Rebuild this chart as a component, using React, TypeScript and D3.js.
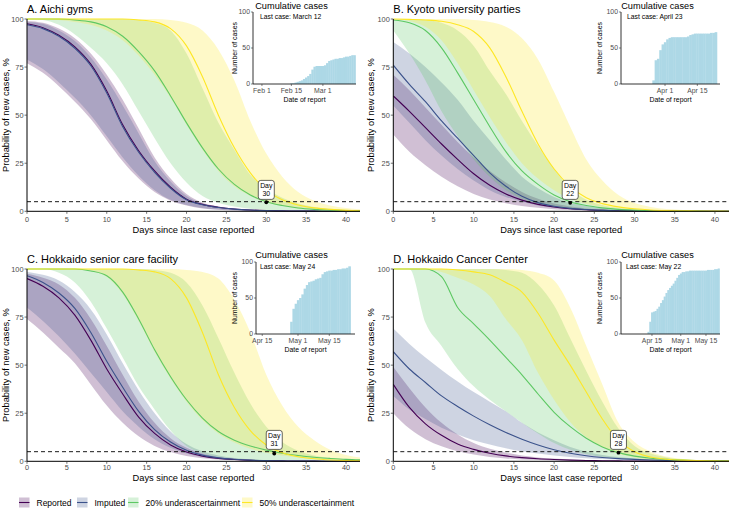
import React from "react";
import * as d3 from "d3";

const FONT = "'Liberation Sans', Arial, Helvetica, sans-serif";

// ---------------- data ----------------
const DAYS = [0, 2, 4, 6, 8, 10, 12, 14, 16, 18, 20, 22, 24, 26, 28, 30, 32, 34, 36, 38, 40, 42];
const X_TICKS = [0, 5, 10, 15, 20, 25, 30, 35, 40];
const Y_TICKS = [0, 25, 50, 75, 100];
const SERIES = ["Reported", "Imputed", "20% underascertainment", "50% underascertainment"];
const COLORS = ["#440154", "#3B528B", "#5DC863", "#FDE725"];
const THRESHOLD = 5;

// Panel A
const A_rep = [97.5, 95.5, 91.5, 85.5, 76.5, 62.5, 45, 31.5, 21, 12.5, 6.3, 3.6, 2.1, 1.2, 0.7, 0.4, 0.2, 0.1, 0.1, 0, 0, 0];
const A_rep_lo = [77, 72, 65, 57, 48, 37, 26, 17, 10, 5.5, 3, 1.5, 0.8, 0.4, 0.2, 0.1, 0.1, 0, 0, 0, 0, 0];
const A_rep_hi = [99, 98, 95, 90, 82, 71, 58, 43, 28, 17, 9, 4.5, 2.5, 1.3, 0.7, 0.4, 0.2, 0.1, 0.1, 0, 0, 0];
const A_imp = [97, 95, 91, 84.8, 75.7, 61.5, 44, 30.7, 20.3, 12, 6, 3.4, 2, 1.15, 0.65, 0.35, 0.2, 0.1, 0.1, 0, 0, 0];
const A_imp_lo = [79, 74, 67, 59, 50, 39, 28, 18.5, 11, 6, 3.3, 1.7, 0.9, 0.5, 0.25, 0.15, 0.1, 0, 0, 0, 0, 0];
const A_imp_hi = [98.5, 97.5, 94, 88.5, 80, 68.5, 55, 40.5, 26, 15.5, 8, 4, 2.2, 1.1, 0.6, 0.35, 0.2, 0.1, 0.1, 0, 0, 0];
const A_g20 = [100, 100, 100, 99.5, 98.5, 96, 91, 83, 73, 60, 46, 33, 22, 14, 8.5, 5, 3, 1.7, 1, 0.6, 0.3, 0.2];
const A_g20_lo = [100, 99.5, 97, 92, 85, 77, 66, 52, 38, 25, 15, 8, 4.5, 2.5, 1.3, 0.7, 0.4, 0.2, 0.1, 0.1, 0, 0];
const A_g20_hi = [100, 100, 100, 100, 100, 100, 100, 99.5, 98, 94, 82, 64, 46, 32, 19, 12, 7, 4, 2.3, 1.3, 0.8, 0.5];
const A_y50 = [100, 100, 100, 100, 100, 100, 100, 99.5, 98.5, 95, 86, 70, 50, 33, 20, 11, 6, 3.3, 1.8, 1, 0.5, 0.3];
const A_y50_lo = [100, 100, 99.5, 98.5, 97, 94, 89, 81, 71, 59, 45, 32, 21, 13, 8, 4.7, 2.7, 1.5, 0.9, 0.5, 0.3, 0.2];
const A_y50_hi = [100, 100, 100, 100, 100, 100, 100, 100, 100, 99.5, 98, 94, 84, 68, 47, 30, 18, 10, 5.5, 3, 1.7, 1];

// Panel B
const B_rep = [60, 52, 43.5, 35, 27, 19.5, 13.5, 9, 5.8, 3.6, 2.2, 1.3, 0.8, 0.5, 0.3, 0.2, 0.1, 0.1, 0, 0, 0, 0];
const B_rep_lo = [40, 31, 24, 18, 13, 9, 6.2, 4.2, 2.8, 1.8, 1.1, 0.7, 0.45, 0.3, 0.2, 0.1, 0.1, 0, 0, 0, 0, 0];
const B_rep_hi = [71, 63, 54, 45, 36, 28, 21, 15, 10, 6.5, 4, 2.5, 1.5, 0.9, 0.55, 0.35, 0.2, 0.1, 0.1, 0, 0, 0];
const B_imp = [76, 66, 57, 47, 38, 29, 20, 13, 7.8, 4.5, 2.6, 1.5, 0.9, 0.5, 0.3, 0.2, 0.1, 0.1, 0, 0, 0, 0];
const B_imp_lo = [55, 46, 37, 29, 22, 16, 11, 7.5, 5, 3, 1.8, 1.1, 0.7, 0.4, 0.25, 0.15, 0.1, 0, 0, 0, 0, 0];
const B_imp_hi = [88, 82, 75, 67, 58, 47, 37, 27, 18, 12, 7.5, 4.5, 2.8, 1.7, 1, 0.6, 0.35, 0.2, 0.1, 0.1, 0, 0];
const B_g20 = [99.5, 98, 94, 85, 72, 58, 44, 31, 21, 14, 8.5, 5, 3, 1.8, 1, 0.6, 0.35, 0.2, 0.1, 0.1, 0, 0];
const B_g20_lo = [94, 82, 68, 52, 39, 27, 18, 11, 6.5, 3.8, 2.2, 1.3, 0.8, 0.5, 0.3, 0.2, 0.1, 0.1, 0, 0, 0, 0];
const B_g20_hi = [100, 100, 99.5, 98, 94, 86, 73, 61, 47, 34, 22, 12, 6, 3.3, 1.8, 1, 0.6, 0.35, 0.2, 0.1, 0.1, 0.1];
const B_y50 = [100, 99.8, 99.5, 98.8, 97, 93.5, 85, 70, 52, 35, 22, 13, 7, 4, 2.3, 1.3, 0.7, 0.4, 0.25, 0.15, 0.1, 0.05];
const B_y50_lo = [100, 99, 96, 89, 77, 63, 49, 36, 25, 17, 11, 6.5, 3.8, 2.2, 1.3, 0.7, 0.4, 0.25, 0.15, 0.1, 0.1, 0.05];
const B_y50_hi = [100, 100, 100, 100, 100, 99.5, 98.5, 96, 90, 79, 62, 44, 27, 16, 8.5, 4.3, 2.3, 1.2, 0.7, 0.4, 0.2, 0.1];

// Panel C
const C_rep = [95, 91, 85, 76, 63, 48, 35, 23, 14.5, 8.5, 4.8, 2.7, 1.5, 0.9, 0.5, 0.3, 0.2, 0.1, 0.1, 0, 0, 0];
const C_rep_lo = [74, 67, 59, 51, 40, 29, 20, 13, 8, 4.8, 2.8, 1.6, 0.9, 0.5, 0.3, 0.2, 0.1, 0.1, 0, 0, 0, 0];
const C_rep_hi = [97.5, 95.5, 92, 85, 74, 60, 45, 31, 20, 12, 7, 4, 2.3, 1.3, 0.8, 0.5, 0.3, 0.2, 0.1, 0.1, 0, 0];
const C_imp = [96.5, 93, 87.5, 79.5, 67, 52, 38.5, 26, 16.5, 10, 5.7, 3.2, 1.8, 1.05, 0.6, 0.35, 0.2, 0.1, 0.1, 0, 0, 0];
const C_imp_lo = [80, 73, 65, 56, 46, 36, 26, 18, 11.5, 7, 4, 2.3, 1.3, 0.7, 0.4, 0.25, 0.15, 0.1, 0.1, 0, 0, 0];
const C_imp_hi = [98.5, 97, 94, 88, 79, 66, 51, 37, 25, 15.5, 9, 5.2, 3, 1.7, 1, 0.6, 0.35, 0.2, 0.1, 0.1, 0, 0];
const C_g20 = [100, 100, 100, 100, 99, 96.5, 88, 74, 58, 44, 32, 22.5, 15.5, 11, 8, 5.8, 4.2, 3, 2.1, 1.5, 1, 0.7];
const C_g20_lo = [100, 100, 98, 93, 83, 69, 54, 39, 27, 16, 8, 4.2, 2.2, 1.3, 0.8, 0.5, 0.3, 0.2, 0.1, 0.1, 0, 0];
const C_g20_hi = [100, 100, 100, 100, 100, 100, 100, 100, 99.5, 98, 93, 81, 64, 46, 30, 18, 10, 5.5, 3, 1.7, 1, 0.6];
const C_y50 = [100, 100, 100, 100, 100, 100, 100, 99.5, 98.5, 95, 85, 67, 45, 28, 16, 8.5, 4.5, 2.4, 1.3, 0.7, 0.4, 0.2];
const C_y50_lo = [100, 100, 100, 100, 99, 96, 87, 73, 57, 43, 31, 21.5, 14.5, 9.8, 6.5, 4.5, 3, 2, 1.3, 0.9, 0.6, 0.4];
const C_y50_hi = [100, 100, 100, 100, 100, 100, 100, 100, 100, 100, 99.5, 98.5, 95, 84, 67, 45, 29, 18, 11, 6, 3.3, 1.8];

// Panel D
const D_rep = [40, 28, 19.5, 13.5, 9, 6.2, 4.2, 2.8, 1.9, 1.3, 0.9, 0.6, 0.4, 0.3, 0.2, 0.1, 0.1, 0.1, 0, 0, 0, 0];
const D_rep_lo = [25, 17, 11.5, 7.8, 5.2, 3.5, 2.3, 1.5, 1, 0.7, 0.45, 0.3, 0.2, 0.1, 0.1, 0.1, 0, 0, 0, 0, 0, 0];
const D_rep_hi = [49, 38, 28, 20, 14, 9.5, 6.5, 4.5, 3, 2, 1.4, 1, 0.7, 0.5, 0.35, 0.25, 0.15, 0.1, 0.1, 0, 0, 0];
const D_imp = [57, 48, 41, 34, 28.5, 23.5, 19, 15, 11.5, 8.5, 6, 4.2, 2.9, 2, 1.4, 1, 0.7, 0.5, 0.35, 0.25, 0.2, 0.15];
const D_imp_lo = [34, 27, 22, 17.5, 14, 11, 8.7, 6.8, 5.2, 4, 3, 2.2, 1.6, 1.2, 0.9, 0.65, 0.5, 0.35, 0.25, 0.2, 0.15, 0.1];
const D_imp_hi = [69, 61, 54, 47.5, 41.5, 36, 31, 26, 20, 15, 11, 7.5, 5, 3.3, 2.2, 1.5, 1, 0.7, 0.5, 0.35, 0.25, 0.2];
const D_g20 = [100, 100, 100, 96, 80, 71.5, 63, 54, 45, 35, 25.5, 18, 12, 7.5, 4.5, 2.7, 1.6, 1, 0.6, 0.4, 0.25, 0.15];
const D_g20_lo = [100, 100, 72, 60, 48, 39, 32, 26, 20, 14.5, 9.5, 6, 3.7, 2.2, 1.3, 0.8, 0.5, 0.3, 0.2, 0.1, 0.1, 0];
const D_g20_hi = [100, 100, 100, 100, 100, 100, 100, 99.5, 98, 92, 81, 64, 47, 31, 17, 8, 4, 2, 1, 0.5, 0.25, 0.1];
const D_y50 = [100, 100, 100, 100, 99.5, 98.5, 97, 93, 88, 77, 63, 50, 36, 22, 11, 5, 2.2, 1.1, 0.6, 0.35, 0.2, 0.1];
const D_y50_lo = [100, 100, 100, 98.5, 95.5, 92, 86, 74, 63, 46, 32, 20.5, 12.5, 7.3, 3.9, 2, 1, 0.5, 0.3, 0.2, 0.1, 0.05];
const D_y50_hi = [100, 100, 100, 100, 100, 100, 100, 100, 99.5, 98, 94, 80, 60, 40, 20, 10, 5, 2.5, 1.2, 0.6, 0.3, 0.15];

const PANEL_TITLES = ["A. Aichi gyms", "B. Kyoto university parties", "C. Hokkaido senior care facility", "D. Hokkaido Cancer Center"];
const DAY_MARK = [30, 22, 31, 28];
const DOT_VALUE = [4.7, 4.4, 4.0, 4.5];
const LAST_CASE = ["Last case: March 12", "Last case: April 23", "Last case: May 24", "Last case: May 22"];

// Cumulative cases by report date (consecutive days from start date)
const CUM_START = [new Date(2020, 1, 15), new Date(2020, 2, 27), new Date(2020, 3, 28), new Date(2020, 3, 13)];
const CUM_A = [1, 1, 2, 3, 4, 5, 7, 9, 11, 14, 20, 24, 25, 25, 25, 25, 26, 29, 32, 33, 34, 35, 35, 36, 36, 37, 38, 38, 39, 40, 40];
const CUM_B = [5, 33, 35, 47, 55, 58, 62, 64, 65, 65, 65, 65, 65, 65, 65, 66, 68, 69, 70, 70, 70, 70, 70, 70, 70, 71, 71, 72];
const CUM_C = [17, 35, 42, 47, 50, 55, 63, 68, 72, 73, 74, 76, 77, 78, 83, 86, 87, 88, 88, 89, 89, 90, 90, 91, 91, 92, 94];
const CUM_D = [3, 17, 30, 31, 32, 35, 38, 43, 47, 52, 57, 61, 64, 67, 70, 74, 78, 82, 84, 86, 86, 87, 87, 88, 88, 88, 88, 88, 88, 88, 88, 88, 88, 89, 89, 89, 89, 90, 90, 91];
const INSET_DOMAIN = [
  [new Date(2020, 0, 27, 18), new Date(2020, 2, 16, 18)],
  [new Date(2020, 2, 12, 22), new Date(2020, 3, 24, 20)],
  [new Date(2020, 3, 12, 5), new Date(2020, 4, 26, 12)],
  [new Date(2020, 2, 28, 19), new Date(2020, 4, 22, 19)],
];
const INSET_TICKS = [
  [new Date(2020, 1, 1), new Date(2020, 1, 15), new Date(2020, 2, 1)],
  [new Date(2020, 3, 1), new Date(2020, 3, 15)],
  [new Date(2020, 3, 15), new Date(2020, 4, 1), new Date(2020, 4, 15)],
  [new Date(2020, 3, 15), new Date(2020, 4, 1), new Date(2020, 4, 15)],
];
const INSET_Y_TICKS = [0, 50, 100];

const PANEL_DATA = [
  [
    { mid: A_rep, lo: A_rep_lo, hi: A_rep_hi },
    { mid: A_imp, lo: A_imp_lo, hi: A_imp_hi },
    { mid: A_g20, lo: A_g20_lo, hi: A_g20_hi },
    { mid: A_y50, lo: A_y50_lo, hi: A_y50_hi },
  ],
  [
    { mid: B_rep, lo: B_rep_lo, hi: B_rep_hi },
    { mid: B_imp, lo: B_imp_lo, hi: B_imp_hi },
    { mid: B_g20, lo: B_g20_lo, hi: B_g20_hi },
    { mid: B_y50, lo: B_y50_lo, hi: B_y50_hi },
  ],
  [
    { mid: C_rep, lo: C_rep_lo, hi: C_rep_hi },
    { mid: C_imp, lo: C_imp_lo, hi: C_imp_hi },
    { mid: C_g20, lo: C_g20_lo, hi: C_g20_hi },
    { mid: C_y50, lo: C_y50_lo, hi: C_y50_hi },
  ],
  [
    { mid: D_rep, lo: D_rep_lo, hi: D_rep_hi },
    { mid: D_imp, lo: D_imp_lo, hi: D_imp_hi },
    { mid: D_g20, lo: D_g20_lo, hi: D_g20_hi },
    { mid: D_y50, lo: D_y50_lo, hi: D_y50_hi },
  ],
];
const CUM = [CUM_A, CUM_B, CUM_C, CUM_D];

// ---------------- layout ----------------
const X_MAX = 41.75;
const LAYOUT = [
  { left: 27, right: 360, top: 19, bottom: 211.3, titleY: 13, tickY: 221.8, xTitleY: 232.5, yTitleX: 8.5,
    inset: { l: 253, r: 356, t: 12, b: 84, titleX: 291.5, titleY: 8.5, ylabX: 235, lastX: 260 } },
  { left: 393.3, right: 729, top: 19, bottom: 211.3, titleY: 13, tickY: 221.8, xTitleY: 232.5, yTitleX: 373.5,
    inset: { l: 621, r: 720, t: 12, b: 84, titleX: 657.5, titleY: 8.5, ylabX: 600, lastX: 627 } },
  { left: 27, right: 360, top: 269, bottom: 461.3, titleY: 263, tickY: 469.5, xTitleY: 480.5, yTitleX: 8.5,
    inset: { l: 256, r: 355, t: 262, b: 334, titleX: 291.5, titleY: 257.5, ylabX: 235, lastX: 260 } },
  { left: 393.3, right: 729, top: 269, bottom: 461.3, titleY: 263, tickY: 469.5, xTitleY: 480.5, yTitleX: 373.5,
    inset: { l: 621, r: 720, t: 262, b: 334, titleX: 657.5, titleY: 257.5, ylabX: 600, lastX: 626 } },
];
const ALPHA = 0.25;
const TICK_COL = "#4D4D4D";
const fmtDate = d3.timeFormat("%b %-d");

function Inset({ i }: { i: number }) {
  const I = LAYOUT[i].inset;
  const xs = d3.scaleTime().domain(INSET_DOMAIN[i]).range([I.l, I.r]);
  const ys = d3.scaleLinear().domain([0, 100]).range([I.b, I.t]);
  const start = CUM_START[i];
  const half = 12 * 3600 * 1000;
  return (
    <g>
      {CUM[i].map((v, k) => {
        const c = d3.timeDay.offset(start, k);
        const x0 = xs(new Date(+c - half));
        const x1 = xs(new Date(+c + half));
        return <rect key={k} x={x0} y={ys(v)} width={x1 - x0 + 0.35} height={ys(0) - ys(v)} fill="#ADD8E6" />;
      })}
      <line x1={I.l} x2={I.l} y1={ys(0)} y2={ys(100)} stroke="#000" strokeWidth={0.8} />
      <line x1={I.l} x2={I.r} y1={ys(0)} y2={ys(0)} stroke="#000" strokeWidth={0.8} />
      {INSET_Y_TICKS.map((t) => (
        <g key={t}>
          <line x1={I.l - 2} x2={I.l} y1={ys(t)} y2={ys(t)} stroke="#333" strokeWidth={0.6} />
          <text x={I.l - 3} y={ys(t) + 2.4} fontSize={6.9} textAnchor="end" fill={TICK_COL}>{t}</text>
        </g>
      ))}
      {INSET_TICKS[i].map((t, k) => (
        <g key={k}>
          <line x1={xs(t)} x2={xs(t)} y1={ys(0)} y2={ys(0) + 2} stroke="#333" strokeWidth={0.6} />
          <text x={xs(t)} y={ys(0) + 8.6} fontSize={6.9} textAnchor="middle" fill={TICK_COL}>{fmtDate(t)}</text>
        </g>
      ))}
      <text x={I.titleX} y={I.titleY} fontSize={9.2} textAnchor="middle" fill="#000">Cumulative cases</text>
      <text x={I.lastX} y={I.t + 6.5} fontSize={6.8} fill="#000">{LAST_CASE[i]}</text>
      <text x={(I.l + I.r) / 2} y={I.b + 17.5} fontSize={6.9} textAnchor="middle" fill="#000">Date of report</text>
      <text transform={`translate(${I.ylabX + 2.4},${(I.t + I.b) / 2}) rotate(-90)`} fontSize={6.9} textAnchor="middle" fill="#000">Number of cases</text>
    </g>
  );
}

function Panel({ i }: { i: number }) {
  const L = LAYOUT[i];
  const x = d3.scaleLinear().domain([0, X_MAX]).range([L.left, L.right]);
  const y = d3.scaleLinear().domain([0, 100]).range([L.bottom, L.top]);
  const idx = DAYS.map((_, k) => k);
  const series = PANEL_DATA[i];
  const clipId = `clip-${i}`;
  const dm = DAY_MARK[i];
  const boxW = 16, boxH = 19;
  const boxBottom = y(6.2);
  return (
    <g>
      <defs>
        <clipPath id={clipId}>
          <rect x={L.left} y={L.top - 6} width={L.right - L.left} height={L.bottom - L.top + 7} />
        </clipPath>
      </defs>
      <g clipPath={`url(#${clipId})`}>
        {series.map((s, k) => {
          const area = d3.area<number>()
            .x((j) => x(DAYS[j]))
            .y0((j) => y(s.lo[j]))
            .y1((j) => y(s.hi[j]))
            .curve(d3.curveMonotoneX);
          return <path key={"a" + k} d={area(idx) || ""} fill={COLORS[k]} fillOpacity={ALPHA} stroke="none" />;
        })}
        {series.map((s, k) => {
          const line = d3.line<number>()
            .x((j) => x(DAYS[j]))
            .y((j) => y(s.mid[j]))
            .curve(d3.curveMonotoneX);
          return <path key={"l" + k} d={line(idx) || ""} fill="none" stroke={COLORS[k]} strokeWidth={1.1} />;
        })}
        <line x1={L.left} x2={L.right} y1={y(THRESHOLD)} y2={y(THRESHOLD)} stroke="#000" strokeWidth={0.9} strokeDasharray="4,3" />
      </g>
      {/* axes */}
      <line x1={L.left} x2={L.left} y1={y(0)} y2={y(100)} stroke="#000" strokeWidth={1} />
      <line x1={L.left} x2={L.right} y1={y(0)} y2={y(0)} stroke="#000" strokeWidth={1} />
      {Y_TICKS.map((t) => (
        <g key={t}>
          <line x1={L.left - 2.5} x2={L.left} y1={y(t)} y2={y(t)} stroke="#333" strokeWidth={0.7} />
          <text x={L.left - 3.5} y={y(t) + 2.6} fontSize={7.4} textAnchor="end" fill={TICK_COL}>{t}</text>
        </g>
      ))}
      {X_TICKS.map((t) => (
        <g key={t}>
          <line x1={x(t)} x2={x(t)} y1={y(0)} y2={y(0) + 2.5} stroke="#333" strokeWidth={0.7} />
          <text x={x(t)} y={L.tickY} fontSize={7.3} textAnchor="middle" fill={TICK_COL}>{t}</text>
        </g>
      ))}
      {/* day label */}
      <rect x={x(dm) - boxW / 2} y={boxBottom - boxH} width={boxW} height={boxH} rx={2.5} fill="#fff" stroke="#000" strokeWidth={0.6} />
      <text x={x(dm)} y={boxBottom - boxH + 7.8} fontSize={6.9} textAnchor="middle" fill="#000">Day</text>
      <text x={x(dm)} y={boxBottom - boxH + 16} fontSize={6.9} textAnchor="middle" fill="#000">{dm}</text>
      <circle cx={x(dm)} cy={y(DOT_VALUE[i])} r={1.9} fill="#000" />
      {/* titles */}
      <text x={L.left} y={L.titleY} fontSize={11} fill="#000">{PANEL_TITLES[i]}</text>
      <text x={(L.left + L.right) / 2} y={L.xTitleY} fontSize={9.3} textAnchor="middle" fill="#000">Days since last case reported</text>
      <text transform={`translate(${L.yTitleX},${(L.top + L.bottom) / 2}) rotate(-90)`} fontSize={9.3} textAnchor="middle" fill="#000">Probability of new cases, %</text>
      <Inset i={i} />
    </g>
  );
}

const LEGEND_X = [19, 77, 128, 242];
const LEGEND_Y = 502.5;

function Legend() {
  return (
    <g>
      {SERIES.map((s, k) => (
        <g key={s}>
          <rect x={LEGEND_X[k]} y={LEGEND_Y - 5} width={10.5} height={10} fill={COLORS[k]} fillOpacity={ALPHA} />
          <line x1={LEGEND_X[k]} x2={LEGEND_X[k] + 10.5} y1={LEGEND_Y} y2={LEGEND_Y} stroke={COLORS[k]} strokeWidth={1.1} />
          <text x={LEGEND_X[k] + 17.5} y={LEGEND_Y + 3} fontSize={8.5} fill="#000">{s}</text>
        </g>
      ))}
    </g>
  );
}

export default function App() {
  return (
    <svg width={729} height={512} style={{ position: "absolute", left: 0, top: 0, display: "block" }} fontFamily={FONT}>
      <rect width={729} height={512} fill="#fff" />
      {PANEL_DATA.map((_, i) => <Panel key={i} i={i} />)}
      <Legend />
    </svg>
  );
}
